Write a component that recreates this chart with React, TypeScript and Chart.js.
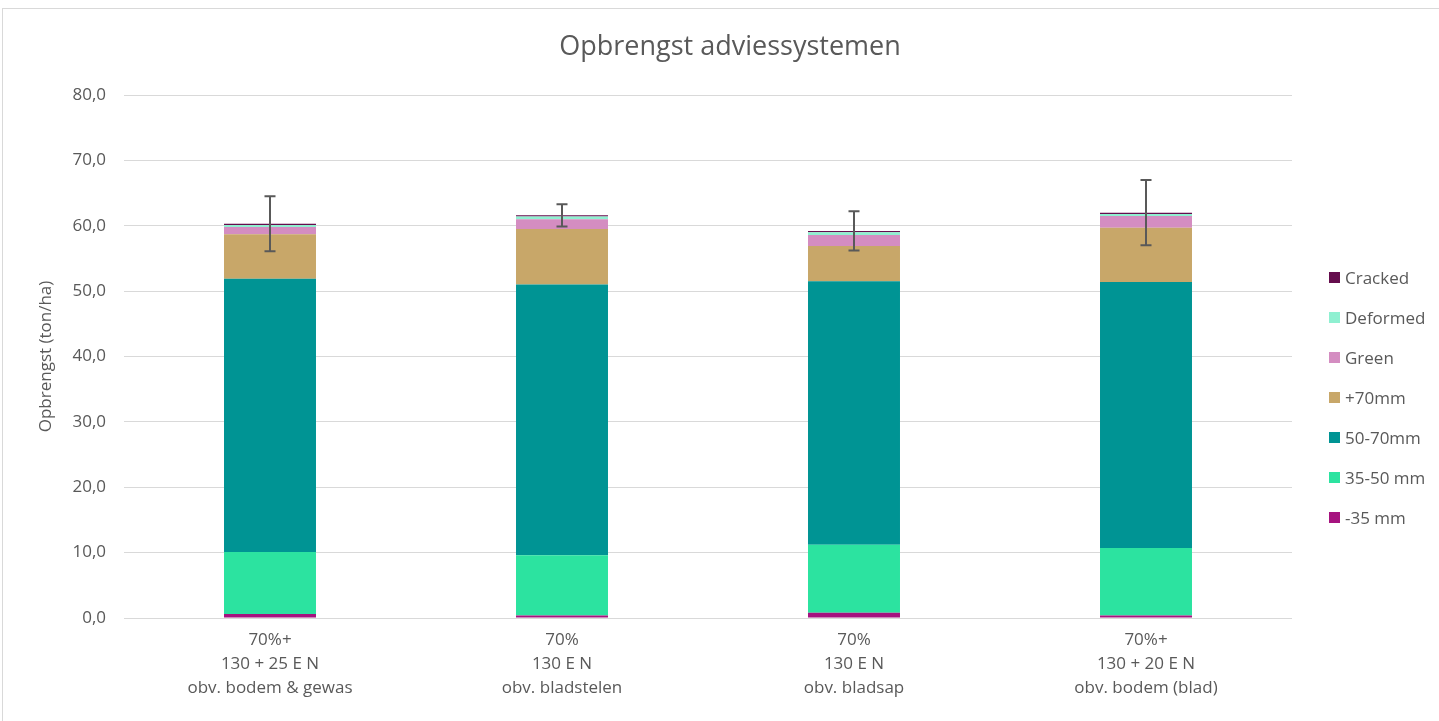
import React, { useEffect, useRef } from "react";
import { Chart, registerables } from "chart.js";

Chart.register(...registerables);

const categories: string[][] = [
  ["70%+", "130 + 25 E N", "obv. bodem & gewas"],
  ["70%", "130 E N", "obv. bladstelen"],
  ["70%", "130 E N", "obv. bladsap"],
  ["70%+", "130 + 20 E N", "obv. bodem (blad)"],
];

const seriesNames = ["-35 mm", "35-50 mm", "50-70mm", "+70mm", "Green", "Deformed", "Cracked"];
const seriesColors = ["#A6137F", "#2CE3A0", "#009494", "#C8A769", "#D48DC1", "#8FF0D1", "#650D4D"];

const minus35 = [0.6, 0.4, 0.8, 0.4];
const mm35to50 = [9.5, 9.2, 10.4, 10.3];
const mm50to70 = [41.8, 41.4, 40.3, 40.7];
const plus70 = [6.8, 8.5, 5.4, 8.3];
const green = [1.1, 1.5, 1.7, 1.8];
const deformed = [0.3, 0.4, 0.4, 0.3];
const cracked = [0.2, 0.2, 0.2, 0.2];
const errors = [4.2, 1.7, 3.0, 5.0];

const seriesValues = [minus35, mm35to50, mm50to70, plus70, green, deformed, cracked];

const yTicks = [0, 10, 20, 30, 40, 50, 60, 70, 80];

const TEXT = "#595959";
const FONT = "'Open Sans', 'Noto Sans', sans-serif";

const errorBarPlugin = {
  id: "errorBars",
  afterLayout(chart: any) {
    const tb = chart.titleBlock;
    if (tb) {
      tb.left = 0;
      tb.right = 1454;
      tb.width = 1454;
    }
  },
  afterDatasetsDraw(chart: any) {
    const { ctx, scales } = chart;
    const xs = scales.x;
    const ys = scales.y;
    ctx.save();
    ctx.strokeStyle = "#595959";
    ctx.lineWidth = 2;
    categories.forEach((_, i) => {
      const total = seriesValues.reduce((s, arr) => s + arr[i], 0);
      const x = xs.getPixelForValue(i);
      const top = ys.getPixelForValue(total + errors[i]);
      const bot = ys.getPixelForValue(total - errors[i]);
      const cap = 5.5;
      ctx.beginPath();
      ctx.moveTo(x, top);
      ctx.lineTo(x, bot);
      ctx.moveTo(x - cap, top);
      ctx.lineTo(x + cap, top);
      ctx.moveTo(x - cap, bot);
      ctx.lineTo(x + cap, bot);
      ctx.stroke();
    });
    ctx.restore();
  },
};

export default function App() {
  const ref = useRef<HTMLCanvasElement | null>(null);

  useEffect(() => {
    if (!ref.current) return;
    const chart = new Chart(ref.current, {
      type: "bar",
      data: {
        labels: categories,
        datasets: seriesNames.map((name, k) => ({
          label: name,
          data: seriesValues[k],
          backgroundColor: seriesColors[k],
          borderWidth: 0,
          categoryPercentage: 1,
          barPercentage: 0.315,
        })),
      },
      options: {
        responsive: false,
        animation: false,
        layout: { padding: { left: 0, right: 147, top: 0, bottom: 0 } },
        plugins: {
          legend: { display: false },
          tooltip: { enabled: false },
          title: {
            display: true,
            text: "Opbrengst adviessystemen",
            color: TEXT,
            font: { family: FONT, size: 27, weight: "normal", lineHeight: 1.2 },
            padding: { top: 21.8, bottom: 31.8 },
          },
        },
        scales: {
          x: {
            stacked: true,
            grid: { display: false, drawTicks: false },
            border: { display: false },
            ticks: {
              color: TEXT,
              font: { family: FONT, size: 17, lineHeight: 24 / 17 },
              padding: 10,
              maxRotation: 0,
              autoSkip: false,
            },
            afterFit: (scale: any) => {
              scale.height = 103;
            },
          },
          y: {
            stacked: true,
            min: 0,
            max: 80,
            afterBuildTicks: (scale: any) => {
              scale.ticks = yTicks.map((v) => ({ value: v }));
            },
            grid: { color: "#D9D9D9", lineWidth: 1, drawTicks: false },
            border: { display: false },
            ticks: {
              color: TEXT,
              font: { family: FONT, size: 17 },
              padding: 18,
              callback: (v: any) => Number(v).toFixed(1).replace(".", ","),
            },
            title: {
              display: true,
              text: "Opbrengst (ton/ha)",
              color: TEXT,
              font: { family: FONT, size: 17, lineHeight: 1.2 },
              padding: { top: 33, bottom: 0 },
            },
            afterFit: (scale: any) => {
              scale.width = 121;
            },
          },
        },
      },
      plugins: [errorBarPlugin],
    });
    return () => chart.destroy();
  }, []);

  const legendOrder = seriesNames.map((n, k) => ({ name: n, color: seriesColors[k] })).reverse();

  return (
    <div
      style={{
        position: "absolute",
        left: 2,
        top: 8,
        width: 1437,
        height: 713,
        borderLeft: "1px solid #D9D9D9",
        borderTop: "1px solid #D9D9D9",
        background: "#fff",
        overflow: "hidden",
      }}
    >
      <canvas
        ref={ref}
        width={1436}
        height={712}
        style={{ position: "absolute", left: 0, top: 0, width: 1436, height: 712 }}
      />
      {legendOrder.map((item, i) => (
        <div
          key={item.name}
          style={{
            position: "absolute",
            left: 1326,
            top: 259 + i * 40,
            height: 18,
            display: "flex",
            alignItems: "center",
            fontFamily: FONT,
            fontSize: 17,
            color: TEXT,
            whiteSpace: "nowrap",
          }}
        >
          <span
            style={{
              display: "inline-block",
              width: 11,
              height: 11,
              background: item.color,
              marginRight: 5,
            }}
          />
          <span>{item.name}</span>
        </div>
      ))}
    </div>
  );
}
